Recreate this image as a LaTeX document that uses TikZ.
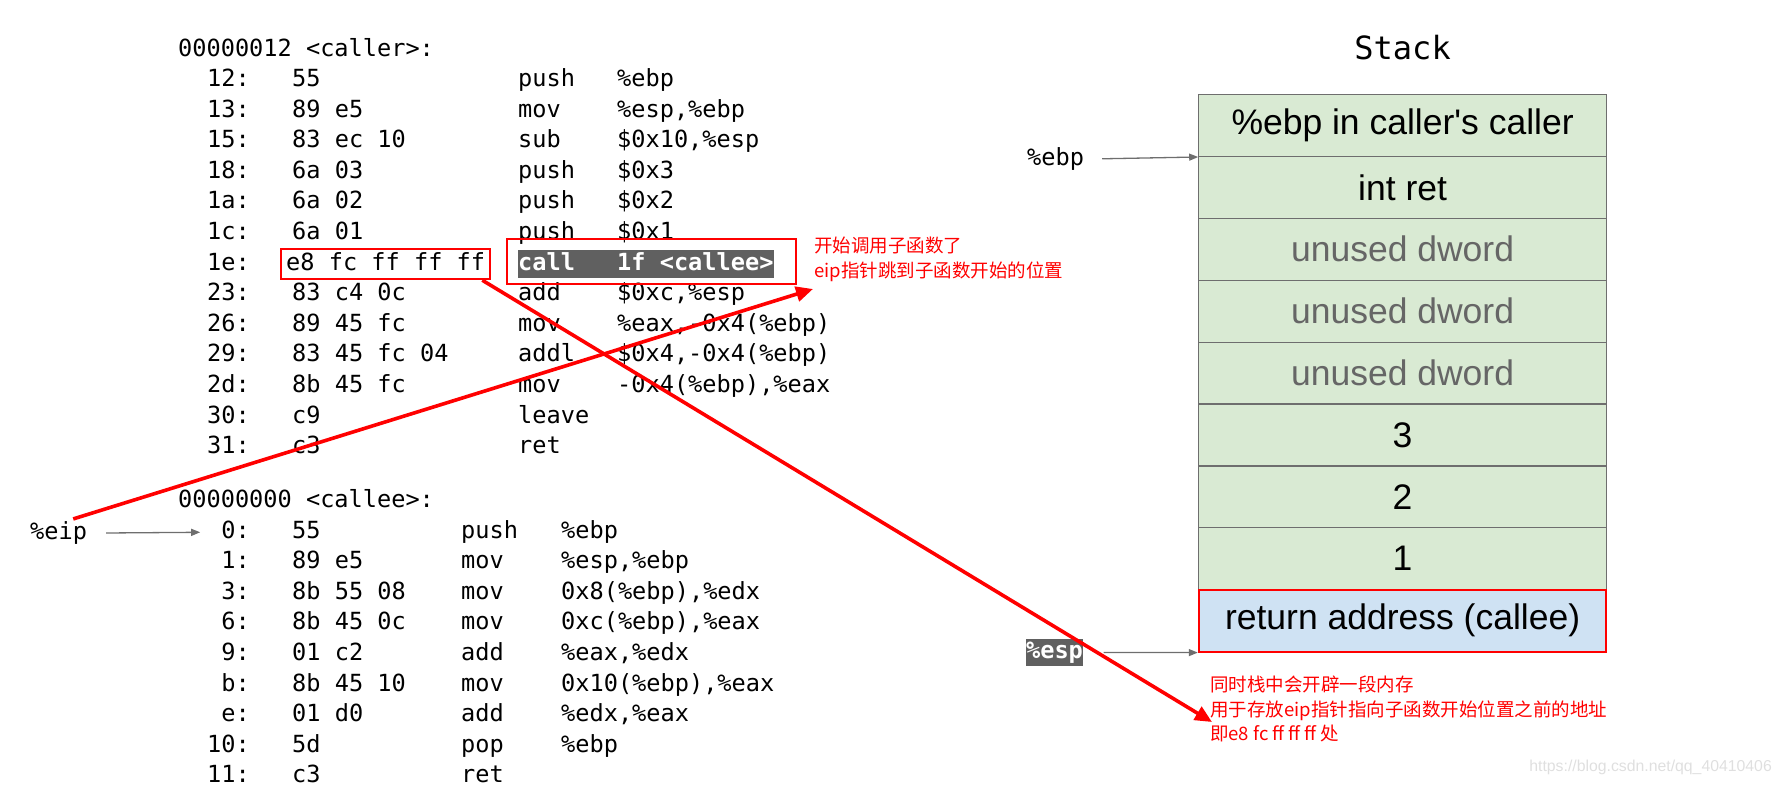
\documentclass[tikz,border=0pt]{standalone}
\usepackage{fontspec}
\usepackage{tikz}
\usetikzlibrary{arrows.meta,%
                fit,backgrounds}
\setmainfont{Liberation Sans}
\newfontfamily\codefont{DejaVu Sans Mono}
\newfontfamily\cjkfont{Noto Sans CJK SC}
\definecolor{stackgreen}{RGB}{217,234,211}
\definecolor{stackblue}{RGB}{207,226,243}
\definecolor{hlgray}{RGB}{96,96,96}
\definecolor{linegray}{RGB}{110,110,110}
\definecolor{dimtext}{RGB}{102,102,102}

\begin{document}
\begin{tikzpicture}[x=1bp,y=-1bp,
  asm/.style={anchor=mid west, inner sep=0pt, text height=17bp, text depth=5bp, yshift=-5.5bp,
              font=\codefont\fontsize{23.6bp}{28bp}\selectfont},
  adr/.style={asm, anchor=mid east},
  hl/.style={asm, text=white, font=\codefont\bfseries\fontsize{23.6bp}{28bp}\selectfont},
  slot/.style={draw=linegray, line width=1.2bp, fill=stackgreen, inner sep=0pt,
               minimum width=407.6bp, minimum height=61.9bp,
               font=\fontsize{35.5bp}{40bp}\selectfont},
  note/.style={anchor=north west, inner sep=0pt, align=left, text=red,
               font=\cjkfont\fontsize{18.5bp}{24.5bp}\selectfont},
  redbox/.style={draw=red, line width=2bp},
  ptr/.style={draw=linegray, line width=1.3bp, -{Triangle[length=9bp,width=7bp]}},
  jump/.style={draw=red, line width=3.6bp, -{Triangle[length=17bp,width=15bp]}}]
\useasboundingbox (0,0) rectangle (1780,789);

% caller
\node[asm] (caller) at (178,48) {00000012 <caller>:};
\node[adr] (a12) at (250,78.3) {12:};  \node[asm] (b12) at (292,78.3) {55};
\node[asm] (m12) at (518,78.3) {push}; \node[asm] (o12) at (617,78.3) {\%ebp};
\node[adr] (a13) at (250,108.9) {13:}; \node[asm] (b13) at (292,108.9) {89 e5};
\node[asm] (m13) at (518,108.9) {mov};  \node[asm] (o13) at (617,108.9) {\%esp,\%ebp};
\node[adr] (a15) at (250,139.5) {15:}; \node[asm] (b15) at (292,139.5) {83 ec 10};
\node[asm] (m15) at (518,139.5) {sub};  \node[asm] (o15) at (617,139.5) {\$0x10,\%esp};
\node[adr] (a18) at (250,170.1) {18:}; \node[asm] (b18) at (292,170.1) {6a 03};
\node[asm] (m18) at (518,170.1) {push}; \node[asm] (o18) at (617,170.1) {\$0x3};
\node[adr] (a1a) at (250,200.7) {1a:}; \node[asm] (b1a) at (292,200.7) {6a 02};
\node[asm] (m1a) at (518,200.7) {push}; \node[asm] (o1a) at (617,200.7) {\$0x2};
\node[adr] (a1c) at (250,231.3) {1c:}; \node[asm] (b1c) at (292,231.3) {6a 01};
\node[asm] (m1c) at (518,231.3) {push}; \node[asm] (o1c) at (617,231.3) {\$0x1};
\node[adr] (a1e) at (250,261.9) {1e:}; \node[asm] (b1e) at (286,261.9) {e8 fc ff ff ff};
\node[hl] (m1e) at (518,261.9) {call};  \node[hl] (o1e) at (617,261.9) {1f <callee>};
\node[adr] (a23) at (250,292.5) {23:}; \node[asm] (b23) at (292,292.5) {83 c4 0c};
\node[asm] (m23) at (518,292.5) {add};  \node[asm] (o23) at (617,292.5) {\$0xc,\%esp};
\node[adr] (a26) at (250,323.1) {26:}; \node[asm] (b26) at (292,323.1) {89 45 fc};
\node[asm] (m26) at (518,323.1) {mov};  \node[asm] (o26) at (617,323.1) {\%eax,-0x4(\%ebp)};
\node[adr] (a29) at (250,353.7) {29:}; \node[asm] (b29) at (292,353.7) {83 45 fc 04};
\node[asm] (m29) at (518,353.7) {addl}; \node[asm] (o29) at (617,353.7) {\$0x4,-0x4(\%ebp)};
\node[adr] (a2d) at (250,384.3) {2d:}; \node[asm] (b2d) at (292,384.3) {8b 45 fc};
\node[asm] (m2d) at (518,384.3) {mov};  \node[asm] (o2d) at (617,384.3) {-0x4(\%ebp),\%eax};
\node[adr] (a30) at (250,414.9) {30:}; \node[asm] (b30) at (292,414.9) {c9};
\node[asm] (m30) at (518,414.9) {leave};
\node[adr] (a31) at (250,445.5) {31:}; \node[asm] (b31) at (292,445.5) {c3};
\node[asm] (m31) at (518,445.5) {ret};

% callee
\node[asm] (callee) at (178,499.5) {00000000 <callee>:};
\node[adr] (a0) at (250,530) {0:};     \node[asm] (b0) at (292,530) {55};
\node[asm] (m0) at (461,530) {push};   \node[asm] (o0) at (561,530) {\%ebp};
\node[adr] (a1) at (250,560.6) {1:};   \node[asm] (b1) at (292,560.6) {89 e5};
\node[asm] (m1) at (461,560.6) {mov};  \node[asm] (o1) at (561,560.6) {\%esp,\%ebp};
\node[adr] (a3) at (250,591.2) {3:};   \node[asm] (b3) at (292,591.2) {8b 55 08};
\node[asm] (m3) at (461,591.2) {mov};  \node[asm] (o3) at (561,591.2) {0x8(\%ebp),\%edx};
\node[adr] (a6) at (250,621.8) {6:};   \node[asm] (b6) at (292,621.8) {8b 45 0c};
\node[asm] (m6) at (461,621.8) {mov};  \node[asm] (o6) at (561,621.8) {0xc(\%ebp),\%eax};
\node[adr] (a9) at (250,652.4) {9:};   \node[asm] (b9) at (292,652.4) {01 c2};
\node[asm] (m9) at (461,652.4) {add};  \node[asm] (o9) at (561,652.4) {\%eax,\%edx};
\node[adr] (ab) at (250,683) {b:};     \node[asm] (bb) at (292,683) {8b 45 10};
\node[asm] (mb) at (461,683) {mov};    \node[asm] (ob) at (561,683) {0x10(\%ebp),\%eax};
\node[adr] (ae) at (250,713.6) {e:};   \node[asm] (be) at (292,713.6) {01 d0};
\node[asm] (me) at (461,713.6) {add};  \node[asm] (oe) at (561,713.6) {\%edx,\%eax};
\node[adr] (a10) at (250,744.2) {10:}; \node[asm] (b10) at (292,744.2) {5d};
\node[asm] (m10) at (461,744.2) {pop};  \node[asm] (o10) at (561,744.2) {\%ebp};
\node[adr] (a11) at (250,774.8) {11:}; \node[asm] (b11) at (292,774.8) {c3};
\node[asm] (m11) at (461,774.8) {ret};

\begin{scope}[on background layer]
\node[fill=hlgray, inner xsep=0pt, inner ysep=3bp, fit=(m1e)(o1e)] (callhl) {};
\end{scope}
\node[redbox, inner xsep=5bp, inner ysep=4bp, fit=(b1e)] (e8box) {};
\node[redbox, inner xsep=17bp, inner ysep=11bp, xshift=5.5bp, yshift=2.5bp, fit=(m1e)(o1e)] (callbox) {};

% stack
\node[font=\codefont\fontsize{32bp}{38bp}\selectfont] (stacktitle) at (1402.6,48) {Stack};
\node[slot] (callerebp) at (1402.6,125.45) {\%ebp in caller\textquotesingle s caller};
\node[slot] (intret) at (1402.6,187.35) {int ret};
\node[slot, text=dimtext] (unused1) at (1402.6,249.25) {unused dword};
\node[slot, text=dimtext] (unused2) at (1402.6,311.15) {unused dword};
\node[slot, text=dimtext] (unused3) at (1402.6,373.05) {unused dword};
\node[slot] (arg3) at (1402.6,434.95) {3};
\node[slot] (arg2) at (1402.6,496.85) {2};
\node[slot] (arg1) at (1402.6,558.75) {1};
\node[slot, fill=stackblue, draw=red, line width=2bp] (retaddr) at (1402.6,620.65) {return address (callee)};

% registers
\node[asm] (ebp) at (1027,157) {\%ebp};
\node[hl, fill=hlgray, anchor=center, inner xsep=0.5bp, inner ysep=2.5bp] (esp) at (1054.5,647) {\%esp};
\node[asm] (eip) at (30,531) {\%eip};

\node[note] (callnote) at (814,237) {开始调用子函数了\\eip指针跳到子函数开始的位置};
\node[note] (espnote) at (1210,676) {同时栈中会开辟一段内存\\用于存放eip指针指向子函数开始位置之前的地址\\即e8 fc ff ff ff 处};
\node[anchor=mid east, inner sep=0pt, text=gray!25, font=\fontsize{15.8bp}{18bp}\selectfont] (mark) at (1772,769) {https://blog.csdn.net/qq\_40410406};

\draw[ptr, shorten <=19bp, shorten >=21bp] (eip.east) -- (a0.west);
\draw[ptr, shorten <=18bp] (ebp.east) -- (callerebp.south west);
\draw[ptr, shorten <=20bp] (esp.east) -- (retaddr.south west);

\draw[jump] ([xshift=-14bp,yshift=3bp]eip.north east) -- ([xshift=-1bp,yshift=-52bp]callnote.north west);
\draw[jump] ([xshift=-9bp]e8box.south east) -- ([xshift=2bp,yshift=-46bp]espnote.north west);

\end{tikzpicture}
\end{document}
